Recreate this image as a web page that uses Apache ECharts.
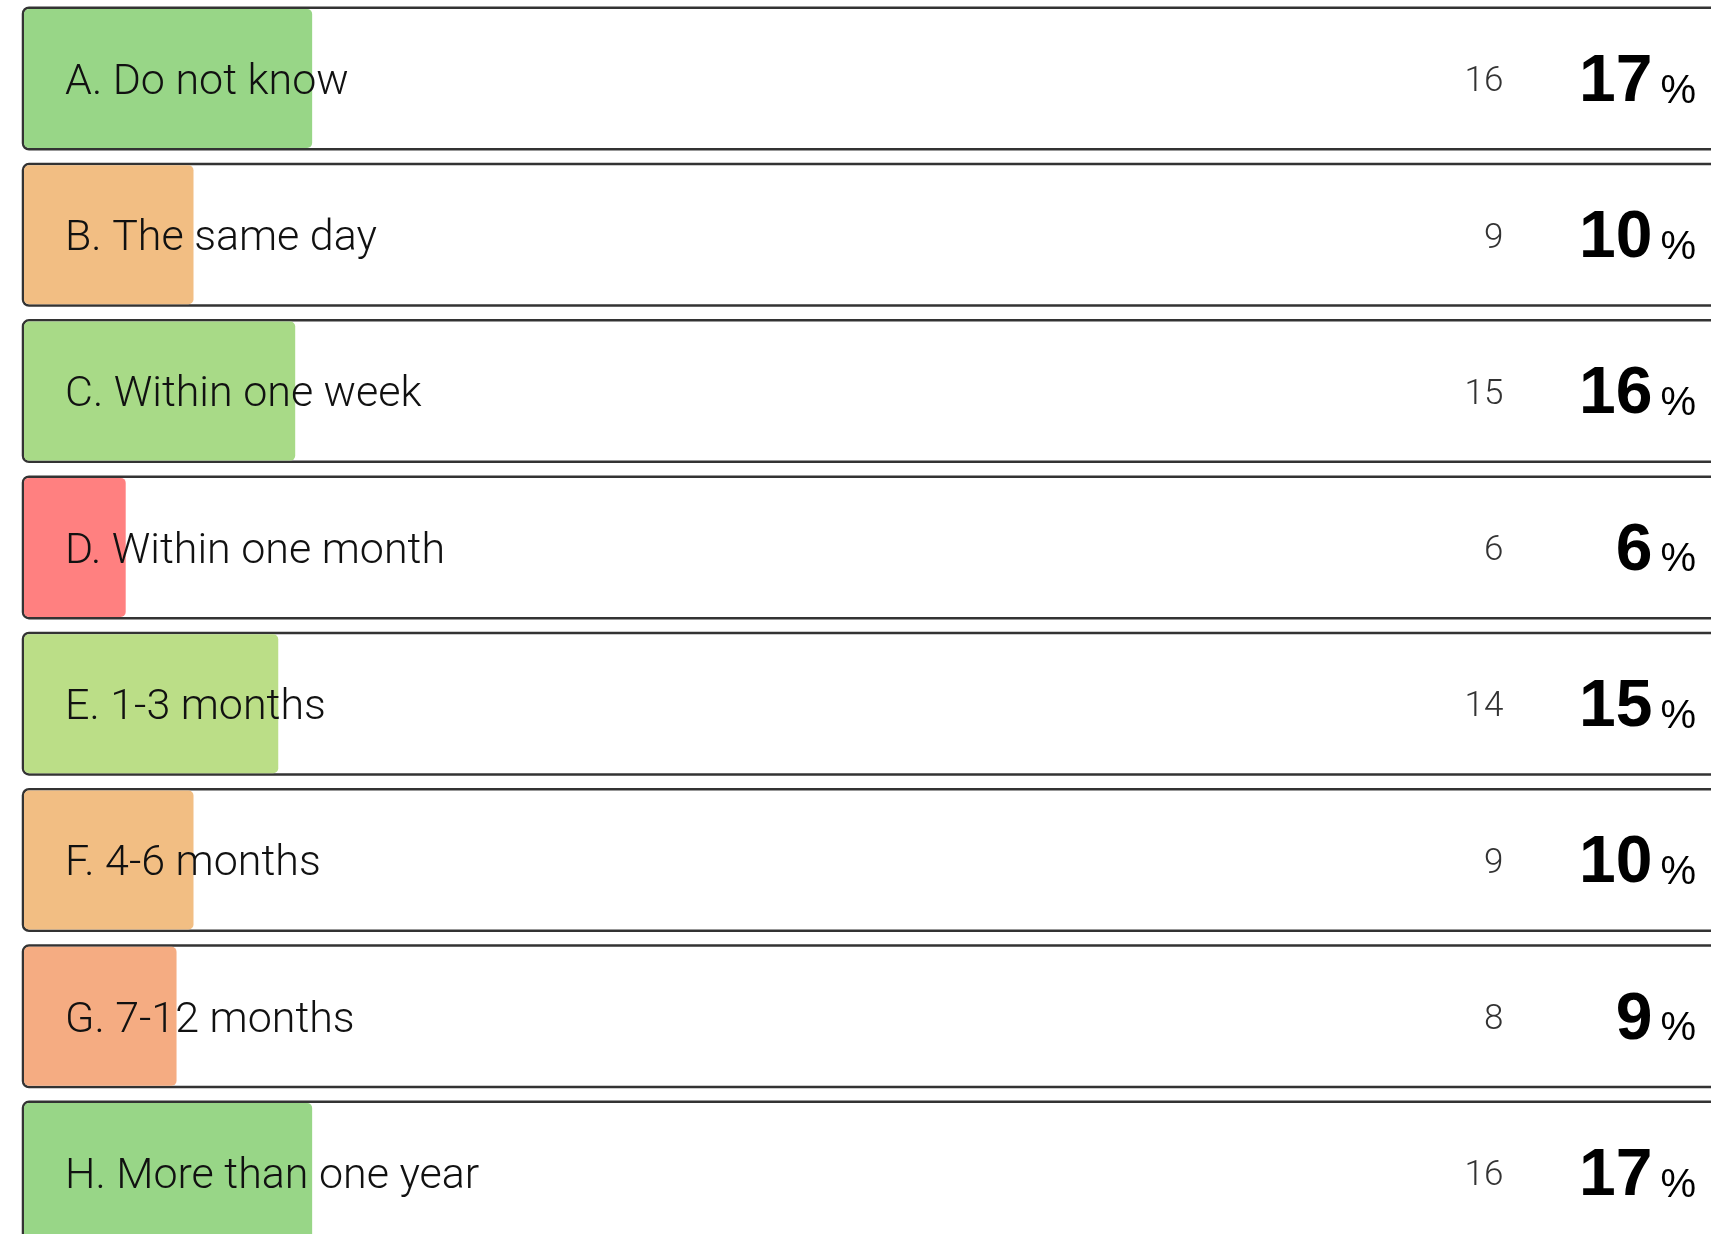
<!DOCTYPE html>
<html>
<head>
<meta charset="utf-8">
<title>Response distribution</title>
<script src="https://cdn.jsdelivr.net/npm/echarts@6/dist/echarts.min.js"></script>
<style>
  html, body { margin: 0; padding: 0; background: #ffffff; }
  #chart { width: 1711px; height: 1234px; }
</style>
</head>
<body>
<div id="chart"></div>
<script>
// Answer options, respondent counts and their share of all answers (%)
const categories = [
  'A. Do not know',
  'B. The same day',
  'C. Within one week',
  'D. Within one month',
  'E. 1-3 months',
  'F. 4-6 months',
  'G. 7-12 months',
  'H. More than one year'
];
const counts = [16, 9, 15, 6, 14, 9, 8, 16];
const percents = [17, 10, 16, 6, 15, 10, 9, 17];

// Fill colour for each option's bar
const barColors = ['#98D687', '#F2BE83', '#A8DA87', '#FF8080', '#BBDE87', '#F2BE83', '#F5AC82', '#98D687'];

const chart = echarts.init(document.getElementById('chart'), null, { renderer: 'canvas' });

const bandCount = categories.length;
const bandSize = 156.3;

const option = {
  backgroundColor: '#ffffff',
  animation: false,
  grid: [
    // bars
    { left: 24, top: 0.35, width: 1695, height: bandSize * bandCount, outerBoundsMode: 'none', containLabel: false },
    // outlined row frames
    { left: 23, top: 0.35, width: 1700, height: bandSize * bandCount, outerBoundsMode: 'none', containLabel: false }
  ],
  xAxis: [
    { type: 'value', gridIndex: 0, min: 0, max: 100, show: false },
    { type: 'value', gridIndex: 1, min: 0, max: 100, show: false }
  ],
  yAxis: [
    {
      type: 'category',
      gridIndex: 0,
      inverse: true,
      data: categories,
      z: 10,
      axisLine: { show: false },
      axisTick: { show: false },
      splitLine: { show: false },
      axisLabel: {
        inside: true,
        interval: 0,
        margin: 41,
        formatter: function (value) {
          return '{n|' + value + '}';
        },
        rich: {
          n: {
            padding: [9, 0, 0, 0],
            fontFamily: 'Roboto',
            fontWeight: 300,
            fontSize: 43,
            color: '#111111'
          }
        }
      }
    },
    {
      type: 'category',
      gridIndex: 1,
      position: 'right',
      inverse: true,
      data: categories,
      z: 10,
      axisLine: { show: false },
      axisTick: { show: false },
      splitLine: { show: false },
      axisLabel: {
        inside: true,
        interval: 0,
        margin: 27,
        padding: [8, 0, 0, 0],
        formatter: function (value, index) {
          return '{c|' + counts[index] + '}{p|' + percents[index] + '}{u|%}';
        },
        rich: {
          c: {
            width: 300,
            align: 'right',
            verticalAlign: 'middle',
            fontFamily: 'Roboto',
            fontWeight: 300,
            fontSize: 35,
            color: '#333333'
          },
          p: {
            width: 149,
            align: 'right',
            verticalAlign: 'bottom',
            fontFamily: 'Liberation Sans',
            fontWeight: 'bold',
            fontSize: 66,
            color: '#000000'
          },
          u: {
            align: 'right',
            verticalAlign: 'bottom',
            fontFamily: 'Liberation Sans',
            fontSize: 40,
            color: '#000000',
            padding: [0, 0, 4, 8]
          }
        }
      }
    }
  ],
  series: [
    {
      name: 'frame',
      type: 'bar',
      xAxisIndex: 1,
      yAxisIndex: 1,
      barWidth: 141.5,
      z: 1,
      silent: true,
      data: percents,
      itemStyle: { color: 'rgba(0,0,0,0)' },
      showBackground: true,
      backgroundStyle: {
        color: '#ffffff',
        borderColor: '#333333',
        borderWidth: 2.5,
        borderRadius: 6,
        opacity: 1
      }
    },
    {
      name: 'share',
      type: 'bar',
      xAxisIndex: 0,
      yAxisIndex: 0,
      barWidth: 139,
      z: 2,
      silent: true,
      data: percents.map(function (v, i) {
        return { value: v, itemStyle: { color: barColors[i] } };
      }),
      itemStyle: { borderRadius: 5 }
    }
  ]
};

chart.setOption(option);
</script>
</body>
</html>
